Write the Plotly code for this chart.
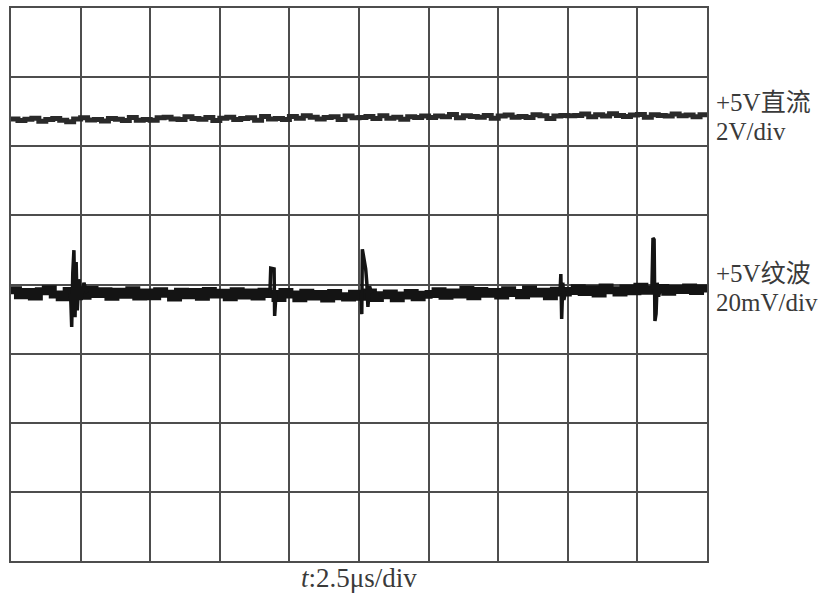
import numpy as np
import plotly.graph_objects as go

# time axis: 0 .. 25 us, 2.5 us/div, samples every 0.25 us
t_us = np.arange(101) * 0.25

# +5V DC channel (V), 2 V/div
dc_volts = [
    5.02, 4.97, 5.01, 5.04, 4.95, 5.00, 5.03, 4.98, 4.94, 5.02,
    5.05, 4.99, 5.00, 4.96, 5.03, 5.01, 4.97, 5.06, 4.98, 5.00,
    4.98, 5.05, 5.07, 5.02, 5.00, 5.08, 5.03, 5.01, 5.06, 4.97,
    5.04, 5.07, 5.00, 5.03, 5.05, 4.98, 5.09, 5.02, 5.03, 5.00,
    5.09, 5.04, 5.11, 5.07, 5.02, 5.06, 5.08, 5.00, 5.10, 5.05,
    5.06, 5.09, 5.03, 5.11, 5.04, 5.07, 5.01, 5.08, 5.06, 5.10,
    5.06, 5.10, 5.08, 5.15, 5.05, 5.11, 5.09, 5.07, 5.12, 5.04,
    5.10, 5.13, 5.07, 5.09, 5.06, 5.14, 5.11, 5.03, 5.10, 5.12,
    5.11, 5.12, 5.16, 5.08, 5.14, 5.10, 5.17, 5.12, 5.09, 5.13,
    5.15, 5.07, 5.14, 5.12, 5.10, 5.16, 5.11, 5.13, 5.08, 5.14, 5.12,
]

# +5V ripple channel (mV), 20 mV/div
ripple_mv = [
    0.8, -0.6, 0.3, -1.0, 0.5, 1.1, -0.4, -1.2, 0.6, 0.0,
    -0.8, 0.9, -0.3, 0.5, -1.1, 0.4, -0.5, 0.8, -1.0, 0.2,
    -0.9, 0.5, -0.2, -1.3, 0.4, -0.6, 0.3, -1.1, 0.6, -0.4,
    0.1, -1.2, 0.5, -0.7, 0.2, -1.0, 0.4, -0.3, -1.4, 0.3,
    -0.4, -1.5, 0.1, -1.0, -0.3, -1.6, 0.0, -0.9, -1.3, -0.2,
    -1.1, 0.2, -1.4, -0.6, -0.1, -1.5, -0.7, 0.0, -1.2, -0.5,
    -0.3, 0.5, -0.8, 0.2, -0.4, 0.9, -0.9, 0.6, -0.2, 0.3,
    -0.7, 0.8, 0.0, -0.6, 1.0, -0.1, 0.4, -0.9, 0.7, 0.2,
    0.6, 1.4, 0.3, 1.1, -0.1, 1.6, 0.8, 0.2, 1.3, 0.5,
    1.8, 0.7, 1.0, 1.5, 0.4, 1.2, 0.9, 1.6, 0.6, 1.3, 1.0,
]

# switching spikes on the ripple channel (us, mV); None separates bursts
spike_t = [2.14, 2.18, 2.22, 2.26, 2.30, 2.34, 2.38, 2.44, 2.52, 2.62, 2.72, None,
           9.30, 9.33, 9.45, 9.47, 9.52, None,
           12.58, 12.60, 12.62, 12.68, 12.74, 12.78, 12.82, 12.88, 12.95, None,
           19.72, 19.75, 19.78, 19.82, 19.86, 19.92, None,
           23.02, 23.06, 23.10, 23.13, 23.17, 23.21, 23.26, 23.32]
spike_mv = [0.0, -9.8, 6.0, 12.4, -7.0, 9.0, -5.0, 4.0, -2.0, 3.0, 0.0, None,
            0.0, 7.2, 7.0, -6.6, 0.0, None,
            0.0, -6.1, 12.7, 10.0, 7.0, 3.0, -4.0, 2.0, 0.0, None,
            0.0, 5.5, -7.5, 3.0, -2.0, 0.5, None,
            1.0, 15.9, 15.5, -8.1, -6.0, 3.0, -1.0, 1.0]

# on-screen positions (divisions from bottom) and scales
DC_POS, DC_REF, DC_SCALE = 6.386, 5.0, 2.0      # V/div
RIP_POS, RIP_SCALE = 3.876, 20.0               # mV/div

dc_div = [DC_POS + (v - DC_REF) / DC_SCALE for v in dc_volts]
rip_div = [RIP_POS + v / RIP_SCALE for v in ripple_mv]
spk_div = [None if v is None else RIP_POS + v / RIP_SCALE for v in spike_mv]

fig = go.Figure()
fig.add_trace(go.Scatter(x=t_us, y=dc_div, mode="lines",
                         line=dict(color="#2a2a2a", width=5, shape="hv"), hoverinfo="skip"))
fig.add_trace(go.Scatter(x=t_us, y=rip_div, mode="lines",
                         line=dict(color="#141414", width=8, shape="hv"), hoverinfo="skip"))
fig.add_trace(go.Scatter(x=spike_t, y=spk_div, mode="lines", connectgaps=False,
                         line=dict(color="#141414", width=3.5), hoverinfo="skip"))

grid = "#4d4d4d"
axis_common = dict(showgrid=True, gridcolor=grid, gridwidth=1.5, zeroline=False,
                   showticklabels=False, ticks="", showline=True, mirror=True,
                   linecolor=grid, linewidth=1.5, fixedrange=True)
fig.update_xaxes(range=[0, 25], dtick=2.5, tick0=0, **axis_common)
fig.update_yaxes(range=[0, 8], dtick=1, tick0=0, **axis_common)

font_fam = "Liberation Serif, Noto Sans CJK SC, serif"
txt_col = "#3a3a3a"
labels = [("+5V直流", 6.63), ("2V/div", 6.21), ("+5V纹波", 4.166), ("20mV/div", 3.733)]
for text, yv in labels:
    fig.add_annotation(x=1, xref="paper", y=yv, yref="y", text=text, showarrow=False,
                       xanchor="left", yanchor="middle", xshift=7,
                       font=dict(family=font_fam, size=25, color=txt_col))
fig.add_annotation(x=0.5, xref="paper", y=0, yref="paper",
                   text="<i>t</i>:2.5μs/div", showarrow=False,
                   xanchor="center", yanchor="top", yshift=0,
                   font=dict(family=font_fam, size=27, color=txt_col))

fig.update_layout(width=828, height=596, margin=dict(l=11, r=121, t=6, b=35),
                  paper_bgcolor="white", plot_bgcolor="white", showlegend=False)

fig.write_html("out.html", config={"displayModeBar": False},
               post_script="document.body.style.margin='0';")
